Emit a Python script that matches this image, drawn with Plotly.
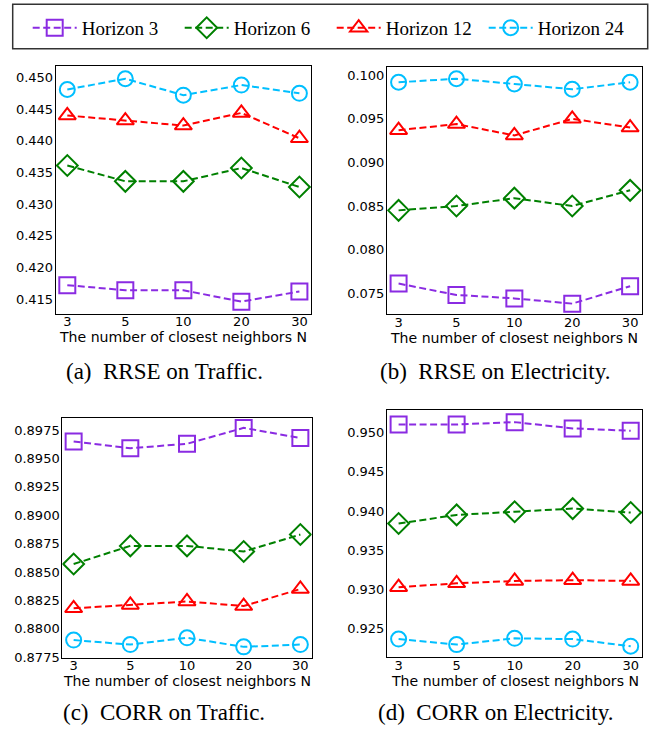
import plotly.graph_objects as go

W, H = 655, 732

neighbors = ["3", "5", "10", "20", "30"]
series_names = ["Horizon 3", "Horizon 6", "Horizon 12", "Horizon 24"]

rrse_traffic_h3 = [0.4172, 0.4164, 0.4164, 0.4146, 0.4162]
rrse_traffic_h6 = [0.4361, 0.4336, 0.4336, 0.4357, 0.4327]
rrse_traffic_h12 = [0.4440, 0.4432, 0.4424, 0.4444, 0.4404]
rrse_traffic_h24 = [0.4481, 0.4498, 0.4472, 0.4488, 0.4475]

rrse_elec_h3 = [0.0761, 0.0748, 0.0744, 0.0738, 0.0758]
rrse_elec_h6 = [0.0845, 0.0850, 0.0859, 0.0850, 0.0868]
rrse_elec_h12 = [0.0937, 0.0944, 0.0931, 0.0950, 0.0940]
rrse_elec_h24 = [0.0992, 0.0996, 0.0990, 0.0984, 0.0992]

corr_traffic_h3 = [0.8965, 0.8959, 0.8963, 0.8977, 0.8968]
corr_traffic_h6 = [0.8857, 0.8873, 0.8873, 0.8868, 0.8883]
corr_traffic_h12 = [0.8818, 0.8821, 0.8824, 0.8820, 0.8835]
corr_traffic_h24 = [0.8790, 0.8786, 0.8792, 0.8784, 0.8786]

corr_elec_h3 = [0.9510, 0.9510, 0.9513, 0.9505, 0.9502]
corr_elec_h6 = [0.9384, 0.9395, 0.9399, 0.9403, 0.9398]
corr_elec_h12 = [0.9303, 0.9308, 0.9311, 0.9312, 0.9311]
corr_elec_h24 = [0.9237, 0.9230, 0.9238, 0.9237, 0.9228]

x_title = "The number of closest neighbors N"
captions = ["(a)\u00a0 RRSE on Traffic.", "(b)\u00a0 RRSE on Electricity.",
            "(c)\u00a0 CORR on Traffic.", "(d)\u00a0 CORR on Electricity."]

colors = ["#8A2BE2", "#008000", "#FF0000", "#00BFFF"]
symbols = ["square-open", "diamond-open", "triangle-up-open", "circle-open"]
msizes = [16, 16, 15, 15]

panels = [
    dict(data=[rrse_traffic_h3, rrse_traffic_h6, rrse_traffic_h12, rrse_traffic_h24],
         px=(55.7, 311.0, 66.7, 316.7), yr=(0.4127, 0.4518), dtick=0.005, fmt=".3f"),
    dict(data=[rrse_elec_h3, rrse_elec_h6, rrse_elec_h12, rrse_elec_h24],
         px=(387.0, 641.7, 67.3, 317.3), yr=(0.07258, 0.10099), dtick=0.005, fmt=".3f"),
    dict(data=[corr_traffic_h3, corr_traffic_h6, corr_traffic_h12, corr_traffic_h24],
         px=(62.3, 311.7, 421.7, 664.0), yr=(0.87745, 0.8986), dtick=0.0025, fmt=".4f"),
    dict(data=[corr_elec_h3, corr_elec_h6, corr_elec_h12, corr_elec_h24],
         px=(387.0, 642.3, 414.3, 663.3), yr=(0.92143, 0.9528), dtick=0.005, fmt=".3f"),
]
caption_pos = [(164, 375.5), (495, 375.5), (164, 719), (496, 719)]

fig = go.Figure()
annotations = []
tickfont = dict(family="DejaVu Sans", size=13, color="black")

for i, p in enumerate(panels):
    n = "" if i == 0 else str(i + 1)
    xa, ya = "x" + n, "y" + n
    for j, vals in enumerate(p["data"]):
        fig.add_trace(go.Scatter(
            x=neighbors, y=vals, name=series_names[j], mode="lines+markers",
            xaxis=xa, yaxis=ya, showlegend=(i == 0), legendrank=j,
            line=dict(color=colors[j], width=2, dash="7px,3.5px"),
            marker=dict(symbol=symbols[j], size=msizes[j], color=colors[j],
                        line=dict(color=colors[j], width=2)),
        ))
    x0, x1, y0, y1 = p["px"]
    fig.layout["xaxis" + n] = dict(
        domain=[x0 / W, x1 / W], anchor=ya, type="category", range=[-0.2, 4.2],
        showline=True, mirror=True, linecolor="black", linewidth=1,
        showgrid=False, zeroline=False, ticks="", tickfont=tickfont,
        ticklabelstandoff=-4)
    fig.layout["yaxis" + n] = dict(
        domain=[1 - y1 / H, 1 - y0 / H], anchor=xa, range=list(p["yr"]),
        dtick=p["dtick"], tickformat=p["fmt"],
        showline=True, mirror=True, linecolor="black", linewidth=1,
        showgrid=False, zeroline=False, ticks="", tickfont=tickfont,
        ticklabelstandoff=-1)
    annotations.append(dict(
        text=x_title, x=(x0 + x1) / 2 / W, y=1 - (y1 + 24) / H,
        xref="paper", yref="paper", xanchor="center", yanchor="middle", showarrow=False,
        font=dict(family="DejaVu Sans", size=14.1, color="black")))
    cx, cy = caption_pos[i]
    annotations.append(dict(
        text=captions[i], x=cx / W, y=1 - cy / H,
        xref="paper", yref="paper", xanchor="center", yanchor="middle", showarrow=False,
        font=dict(family="Liberation Serif", size=23, color="black")))

fig.update_layout(
    width=W, height=H, margin=dict(l=0, r=0, t=0, b=0),
    paper_bgcolor="white", plot_bgcolor="white",
    annotations=annotations,
    shapes=[dict(type="rect", xref="paper", yref="paper",
                 x0=12.7 / W, x1=647.7 / W, y0=1 - 49.3 / H, y1=1 - 4.3 / H,
                 line=dict(color="#333333", width=1.5), fillcolor="rgba(0,0,0,0)")],
    legend=dict(orientation="h", x=27.7 / W, y=1 - 9 / H, xanchor="left", yanchor="top",
                bgcolor="rgba(0,0,0,0)", borderwidth=0, itemwidth=44,
                entrywidth=93, entrywidthmode="pixels",
                font=dict(family="Liberation Serif", size=19, color="black"),
                traceorder="normal"),
)

fig.write_html("out.html", config={"displayModeBar": False},
               post_script="document.body.style.margin='0px';document.body.style.overflow='hidden';")
